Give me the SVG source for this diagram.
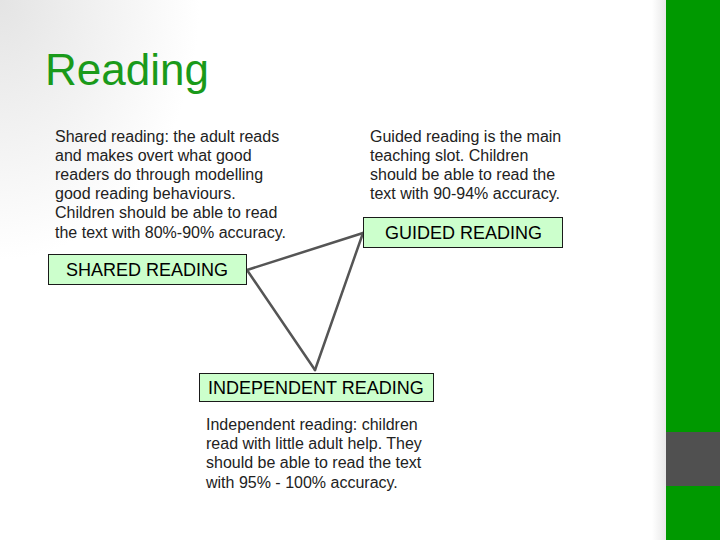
<svg xmlns="http://www.w3.org/2000/svg" width="720" height="540" viewBox="0 0 720 540">
<defs>
<radialGradient id="bg" cx="0" cy="0" r="1" gradientUnits="userSpaceOnUse" gradientTransform="translate(0 0) scale(200 260)">
<stop offset="0" stop-color="#e4e4e4"/>
<stop offset="1" stop-color="#ffffff"/>
</radialGradient>
<linearGradient id="edge" x1="0" y1="0" x2="1" y2="0">
<stop offset="0" stop-color="#ffffff"/>
<stop offset="1" stop-color="#e8e8e8"/>
</linearGradient>
<style>
.body{font-family:"Liberation Sans",Arial,sans-serif;font-size:16px;fill:#222}
.box{fill:#ccffcc;stroke:#1a1a1a;stroke-width:1}
.lbl{font-family:"Liberation Sans",Arial,sans-serif;font-size:18px;fill:#000}
.con{stroke:#555;stroke-width:2.5;fill:none;stroke-linecap:round}
</style>
</defs>
<rect width="720" height="540" fill="#fff"/>
<rect width="720" height="540" fill="url(#bg)"/>
<rect x="652" y="0" width="14" height="540" fill="url(#edge)"/>
<rect x="666" y="0" width="54" height="540" fill="#009900"/>
<rect x="666" y="432" width="54" height="54" fill="#505050"/>
<text x="45" y="85" font-family="Liberation Sans, Arial, sans-serif" font-size="44" fill="#1a9a1a">Reading</text>
<g id="shared-text" class="body">
<text x="55" y="142">Shared reading: the adult reads</text>
<text x="55" y="161">and makes overt what good</text>
<text x="55" y="180">readers do through modelling</text>
<text x="55" y="199">good reading behaviours.</text>
<text x="55" y="218">Children should be able to read</text>
<text x="55" y="238">the text with 80%-90% accuracy.</text>
</g>
<g id="guided-text" class="body">
<text x="370" y="142">Guided reading is the main</text>
<text x="370" y="161">teaching slot. Children</text>
<text x="370" y="180">should be able to read the</text>
<text x="370" y="199">text with 90-94% accuracy.</text>
</g>
<g id="independent-text" class="body">
<text x="206" y="430">Independent reading: children</text>
<text x="206" y="449">read with little adult help. They</text>
<text x="206" y="468">should be able to read the text</text>
<text x="206" y="488">with 95% - 100% accuracy.</text>
</g>
<g id="connectors">
<line class="con" x1="247" y1="270" x2="363" y2="233"/>
<line class="con" x1="247" y1="270" x2="315" y2="370"/>
<line class="con" x1="363" y1="233" x2="315" y2="370"/>
</g>
<g id="shared">
<rect class="box" x="48.5" y="254.5" width="198" height="30"/>
<text class="lbl" x="66" y="276">SHARED READING</text>
</g>
<g id="guided">
<rect class="box" x="363.5" y="217.5" width="199" height="30"/>
<text class="lbl" x="385" y="239">GUIDED READING</text>
</g>
<g id="independent">
<rect class="box" x="199.5" y="373.5" width="234" height="28"/>
<text class="lbl" x="208" y="393.5">INDEPENDENT READING</text>
</g>
</svg>
